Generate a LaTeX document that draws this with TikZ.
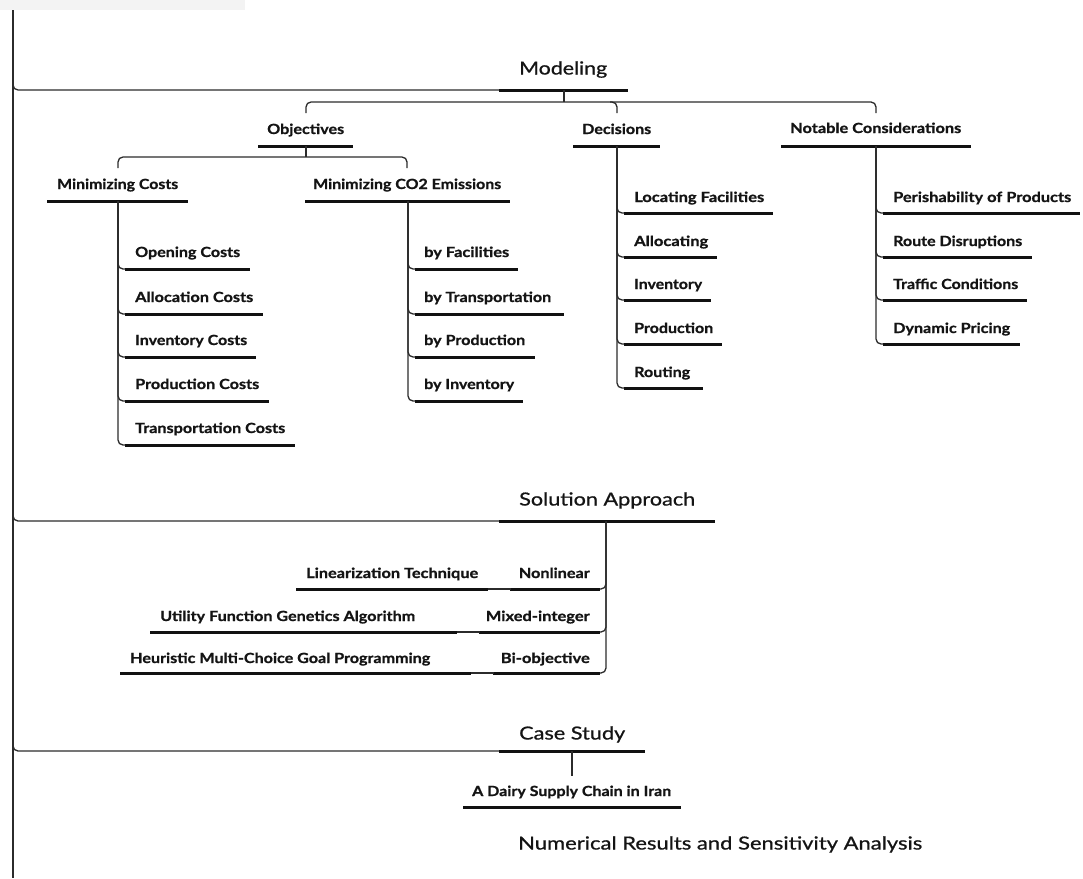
\documentclass[tikz,border=0pt]{standalone}
\usepackage{fontspec}
\setmainfont{Lato}
\newfontfamily\labfont{Lato}[UprightFont=* Bold, FakeBold=0.9]
\newfontfamily\headfont{Lato}[FakeBold=0.7]
\usepackage{graphicx}
\definecolor{txt}{HTML}{141414}
\definecolor{lin}{HTML}{2B2B2B}
\definecolor{barc}{HTML}{111111}
\definecolor{band}{HTML}{F3F3F3}
\newcommand\fw[2]{\resizebox{#1pt}{\height}{#2}}
\tikzset{
  lab/.style={inner sep=0pt, anchor=west, text height=10pt, text depth=0pt,
    font=\fontsize{14}{16}\labfont, text=txt},
  head/.style={inner sep=0pt, anchor=west, text height=13pt, text depth=0pt,
    font=\fontsize{18}{20}\headfont, text=txt},
  conn/.style={draw=lin, line width=1.3pt, rounded corners=5pt},
  mainline/.style={draw=lin, line width=1.7pt},
  bar/.style={draw=barc, line width=3pt},
}
\begin{document}
\begin{tikzpicture}[x=1pt,y=-1pt]
\useasboundingbox (0,0) rectangle (1083,878);
\fill[band] (0,0) rectangle (245,10);
% main spine
\coordinate (top) at (13,10);
\coordinate (bot) at (13,878);
\draw[mainline] (top) -- (bot);

% ---------- Modeling ----------
\node[head] (model) at (519,68) {\fw{88}{Modeling}};
\coordinate (mL) at (499,90); \coordinate (mR) at (628,90);
\draw[conn] (13,82) -- (13,90) -- (mL);
\draw[bar] (mL) -- (mR);
\draw[conn] (564,90) -- (564,102);
\draw[conn] (306,113) -- (306,102) -- (876,102) -- (876,113);
\draw[conn] (610,102) -- (617,102) -- (617,113);

\node[lab] (obj) at (267,129) {\fw{77}{Objectives}};
\draw[bar] (258,146) -- (353,146);
\node[lab] (dec) at (582,129) {\fw{69}{Decisions}};
\draw[bar] (573,146) -- (660,146);
\node[lab] (nota) at (790,128) {\fw{171}{Notable Considerations}};
\draw[bar] (781,146) -- (971,146);

% Objectives
\draw[conn] (306,146) -- (306,157);
\draw[conn] (118,168) -- (118,157) -- (407,157) -- (407,168);
\node[lab] (minc) at (57,184) {\fw{121}{Minimizing Costs}};
\draw[bar] (47,201) -- (188,201);
\node[lab] (minco) at (313,184) {\fw{188}{Minimizing CO2 Emissions}};
\draw[bar] (305,201) -- (510,201);

% Minimizing Costs children
\foreach \nm/\t/\w/\y/\e in {oc/Opening Costs/105/252/250,
                             ac/Allocation Costs/118/297/263,
                             ic/Inventory Costs/112/340/256,
                             pc/Production Costs/124/384/269,
                             tc/Transportation Costs/150/428/295}{
  \node[lab] (\nm) at (135,\y) {\fw{\w}{\t}};
  \draw[conn] (118,201) -- (118,\y+17) -- (128,\y+17);
  \draw[bar] (125,\y+17) -- (\e,\y+17);
}
% CO2 children
\foreach \nm/\t/\w/\y/\e in {bf/by Facilities/85/252/518,
                             bt/by Transportation/127/297/564,
                             bp/by Production/101/340/535,
                             bi/by Inventory/90/384/523}{
  \node[lab] (\nm) at (424,\y) {\fw{\w}{\t}};
  \draw[conn] (408,201) -- (408,\y+17) -- (418,\y+17);
  \draw[bar] (415,\y+17) -- (\e,\y+17);
}
% Decisions children
\foreach \nm/\t/\w/\y/\e in {lf/Locating Facilities/130/197/773,
                             al/Allocating/74/241/717,
                             inv/Inventory/68/284/711,
                             pr/Production/79/328/722,
                             ro/Routing/56/372/703}{
  \node[lab] (\nm) at (634,\y) {\fw{\w}{\t}};
  \draw[conn] (617,146) -- (617,\y+16) -- (627,\y+16);
  \draw[bar] (624,\y+16) -- (\e,\y+16);
}
% Notable children
\foreach \nm/\t/\w/\y/\e in {pe/Perishability of Products/178/197/1080,
                             rd/Route Disruptions/129/241/1032,
                             tr/Traffic Conditions/125/284/1027,
                             dp/Dynamic Pricing/117/328/1020}{
  \node[lab] (\nm) at (893,\y) {\fw{\w}{\t}};
  \draw[conn] (876,146) -- (876,\y+16) -- (886,\y+16);
  \draw[bar] (883,\y+16) -- (\e,\y+16);
}

% ---------- Solution Approach ----------
\node[head] (sol) at (519,499) {\fw{176}{Solution Approach}};
\coordinate (sL) at (499,521); \coordinate (sR) at (715,521);
\draw[conn] (13,513) -- (13,521) -- (sL);
\draw[bar] (sL) -- (sR);
\foreach \a/\ta/\wa/\b/\tb/\wb/\lb/\y in {
   nl/Nonlinear/71/lt/Linearization Technique/172/296/573,
   mi/Mixed-integer/104/ug/Utility Function Genetics Algorithm/255/150/616,
   bo/Bi-objective/89/hm/Heuristic Multi-Choice Goal Programming/300/120/658}{
  \node[lab, anchor=east] (\a) at (590,\y) {\fw{\wa}{\ta}};
  \node[lab] (\b) at (\lb+10,\y) {\fw{\wb}{\tb}};
}
\draw[conn] (606,521) -- (606,589) -- (597,589);
\draw[conn] (606,521) -- (606,632) -- (597,632);
\draw[conn] (606,521) -- (606,673) -- (597,673);
\draw[bar] (510,589) -- (600,589);
\draw[conn] (487,589) -- (511,589);
\draw[bar] (296,589) -- (488,589);
\draw[bar] (479,632) -- (600,632);
\draw[conn] (456,632) -- (480,632);
\draw[bar] (150,632) -- (457,632);
\draw[bar] (493,673) -- (600,673);
\draw[conn] (470,673) -- (494,673);
\draw[bar] (120,673) -- (471,673);

% ---------- Case Study ----------
\node[head] (case) at (519,733) {\fw{106}{Case Study}};
\coordinate (cL) at (499,751); \coordinate (cR) at (645,751);
\draw[conn] (13,743) -- (13,751) -- (cL);
\draw[bar] (cL) -- (cR);
\draw[conn] (572,751) -- (572,776);
\node[lab] (dairy) at (472,791) {\fw{199}{A Dairy Supply Chain in Iran}};
\draw[bar] (463,807) -- (681,807);

% ---------- Numerical Results ----------
\node[head] (num) at (518,843) {\fw{404}{Numerical Results and Sensitivity Analysis}};
\end{tikzpicture}
\end{document}
